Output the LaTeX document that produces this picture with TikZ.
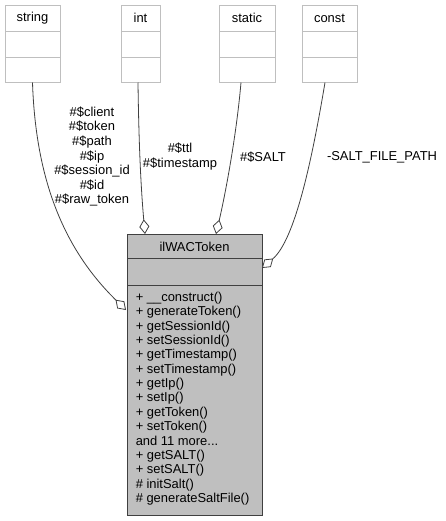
\documentclass[tikz,border=0pt]{standalone}
\usepackage{fontspec}
\setmainfont{Liberation Sans}
\usetikzlibrary{arrows.meta}
\definecolor{boxgray}{HTML}{BFBFBF}
\definecolor{edgegray}{HTML}{404040}
\newcommand{\moredots}{and 11 more...}
\begin{document}
\begin{tikzpicture}[x=0.75pt,y=-0.75pt,
  every node/.style={font=\fontsize{9.7}{10.9}\selectfont, inner sep=0pt},
  cls/.style={draw=boxgray, line width=0.75pt, fill=white, minimum height=57.75pt},
  mainbox/.style={draw=edgegray, line width=0.75pt, fill=boxgray, minimum width=101.25pt, minimum height=210.75pt},
  divl/.style={draw=boxgray, line width=0.75pt},
  maindiv/.style={draw=edgegray, line width=0.75pt},
  edge/.style={draw=edgegray, line width=0.6pt, -{Diamond[open,fill=white,length=11pt,width=7.5pt]}},
  elabel/.style={align=center, text=black},
  member/.style={anchor=base west}
]
\useasboundingbox (0,0) rectangle (446,521);

% small class boxes
\node[cls, minimum width=41.25pt] (string) at (32.5,43.5) {};
\node[cls, minimum width=29.25pt] (int) at (140.5,43.5) {};
\node[cls, minimum width=42pt] (static) at (247,43.5) {};
\node[cls, minimum width=41.25pt] (const) at (329.5,43.5) {};
\foreach \a/\b in {5/60,121/160,219/275,302/357}{
  \draw[divl] (\a,31) -- (\b,31);
  \draw[divl] (\a,57) -- (\b,57);
}
\node (tstring) at (32.5,18) {string};
\node (tint) at (140.5,18) {int};
\node (tstatic) at (247,18) {static};
\node (tconst) at (329.5,18) {const};

% main class box
\node[mainbox] (main) at (194.5,374.5) {};
\draw[maindiv] (127,258) -- (262,258);
\draw[maindiv] (127,285) -- (262,285);
\node (title) at (194.5,246.5) {ilWACToken};
\foreach \t [count=\i from 0] in {{+ \_\_construct()},{+ generateToken()},{+ getSessionId()},{+ setSessionId()},{+ getTimestamp()},{+ setTimestamp()},{+ getIp()},{+ setIp()},{+ getToken()},{+ setToken()},{\moredots},{+ getSALT()},{+ setSALT()},{\# initSalt()},{\# generateSaltFile()}}{
  \node[member] (m\i) at (135.5,{301.5+\i*14.35}) {\t};
}

% edge end points
\coordinate (estring) at (126,310);
\coordinate (eint) at (145,234);
\coordinate (estatic) at (216,234);
\coordinate (econst) at (262,268);

\draw[edge] (string.south) .. controls (36,190) and (70,255) .. (estring);
\draw[edge] ([xshift=-2.5*0.75pt]int.south) .. controls (139,160) and (142,200) .. (eint);
\draw[edge] ([xshift=-6*0.75pt]static.south) .. controls (236,140) and (224,200) .. (estatic);
\draw[edge] ([xshift=-4.5*0.75pt]const.south) .. controls (312,160) and (295,240) .. (econst);

% edge labels
\node[elabel] (lstring) at (92,156.5) {\#\$client\\\#\$token\\\#\$path\\\#\$ip\\\#\$session\_id\\\#\$id\\\#\$raw\_token};
\node[elabel] (lint) at (180,156.5) {\#\$ttl\\\#\$timestamp};
\node[elabel] (lstatic) at (263,157) {\#\$SALT};
\node[elabel] (lconst) at (382,157) {-SALT\_FILE\_PATH};
\end{tikzpicture}
\end{document}
